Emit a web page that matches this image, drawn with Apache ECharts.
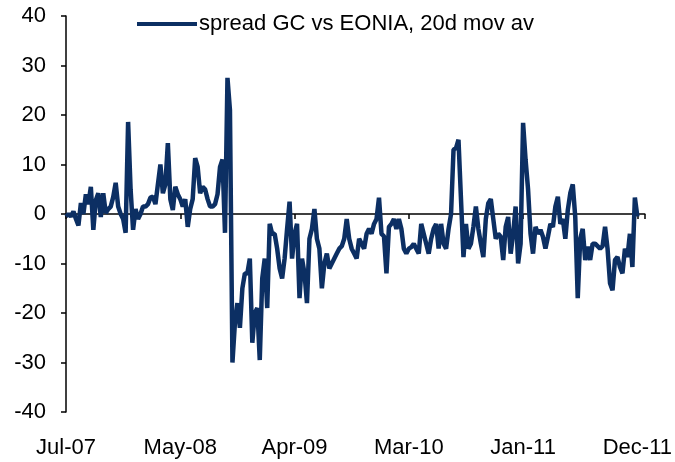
<!DOCTYPE html>
<html>
<head>
    <meta charset="utf-8">
    <script src="https://cdn.jsdelivr.net/npm/echarts@6/dist/echarts.min.js"></script>
    <style>
        html, body { margin: 0; padding: 0; background: #ffffff; }
        #chart { width: 675px; height: 462px; }
    </style>
</head>
<body>
    <div id="chart"></div>
    <script type="text/javascript">
        // weekly readings, Jul-07 .. Dec-11
        var seriesName = 'spread GC vs EONIA, 20d mov av';
        var tickLabels = ['Jul-07', 'May-08', 'Apr-09', 'Mar-10', 'Jan-11', 'Dec-11'];
        var weeksPerLabel = 46;

        var spread2007 = [-0.5, 0, -0.5, 0.5, -1, -2.3, 2.2, 0, 4, 2, 5.5, -3.2, 2.8, 4.2, -0.6, 4.2, 0.2, 1, 1.5, 3.4,
            6.3, 1.5, 0, -1, -3.8, 18.6, 5, -3.2, 1, -1];
        var spread2008 = [0, 1.5, 1.5, 2, 3.3, 3.5, 2, 6, 10, 4.2, 6, 14.3, 3, 0.8, 5.5, 4, 3, 1.5, 3, -2.6,
            1, 3, 11.3, 9.5, 4.2, 5.5, 5, 3, 1.5, 1.5, 2, 4, 9.5, 11, -3.8, 27.5, 21, -30, -22, -18,
            -23, -15, -12, -12, -9, -26, -20, -19, -29.5, -13, -9, -19, -2, -4, -4, -7, -11, -13, -9, -3];
        var spread2009 = [2.5, -9, -4, -2, -17, -9, -12, -18, -5, -3, 1, -5, -7, -15, -10, -8, -11, -10, -9, -8,
            -7, -6.5, -5, -1, -5, -7, -8, -9, -5, -6, -7, -4, -3, -4, -2, -1, 3.3, -4, -4.5, -12,
            -2.6, -2, -1, -3, -1, -3, -7, -8, -7, -6.7, -6, -7, -8, -2, -4, -6, -8, -5, -3, -2];
        var spread2010 = [-7, -2, -6, -7, -3, 0, 13, 13.3, 15, 3, -8.7, -2, -7, -6, -2.6, 1.5, -3, -6, -8.7, -1,
            2.2, 3, -1, -5, -4, -4.6, -9.3, -2.6, -0.6, -8, -4, 1.5, -10, -6, 18.4, 11, 5, -4, -8, -2.6,
            -4, -3.2, -4.6, -7, -4.6, -2, -2.6, 1.5, 3.5, -2, -1, -5, 0.8, 4.2, 6, -0.6, -17, -5, -3, -9.3];
        var spread2011 = [-6.6, -9.3, -6, -6, -6.5, -7, -6.5, -2.6, -7, -14, -15.4, -9.3, -8.7, -10.7, -12, -7, -8.7, -4, -10.7, 3.3,
            -0.5];

        var spread = spread2007.concat(spread2008, spread2009, spread2010, spread2011);
        var points = spread.map(function (v, i) { return [i, v]; });

        var chart = echarts.init(document.getElementById('chart'));
        var font = 'Liberation Sans, Arial, sans-serif';

        var option = {
            animation: false,
            backgroundColor: '#ffffff',
            grid: { left: 66, right: 30, top: 16, bottom: 50 },
            legend: {
                left: 132,
                top: 8,
                icon: 'rect',
                itemWidth: 60,
                itemHeight: 4,
                itemGap: 4,
                textStyle: { fontFamily: font, fontSize: 22, color: '#000000', padding: [0, 0, 0, -3] },
                data: [seriesName]
            },
            xAxis: [{
                type: 'value',
                min: 0,
                max: 233,
                interval: weeksPerLabel,
                position: 'bottom',
                axisLine: { show: false, onZero: false },
                axisTick: { show: false },
                splitLine: { show: false },
                axisLabel: {
                    margin: 25,
                    fontFamily: font,
                    fontSize: 22,
                    color: '#000000',
                    formatter: function (v) { return tickLabels[Math.round(v / weeksPerLabel)] || ''; }
                }
            }, {
                type: 'value',
                min: 0,
                max: 233,
                interval: weeksPerLabel,
                position: 'bottom',
                axisLine: { show: true, onZero: true, lineStyle: { color: '#000000', width: 1.5 } },
                axisTick: { show: true, length: 5, lineStyle: { color: '#000000', width: 1.5 } },
                axisLabel: { show: false },
                splitLine: { show: false }
            }],
            yAxis: {
                type: 'value',
                min: -40,
                max: 40,
                interval: 10,
                axisLine: { show: true, lineStyle: { color: '#000000', width: 1.5 } },
                axisTick: { show: true, length: 5, lineStyle: { color: '#000000', width: 1.5 } },
                splitLine: { show: false },
                axisLabel: { margin: 20, fontFamily: font, fontSize: 22, color: '#000000' }
            },
            series: [{
                name: seriesName,
                type: 'line',
                xAxisIndex: 0,
                data: points,
                showSymbol: false,
                symbol: 'none',
                color: '#0c2f63',
                lineStyle: { color: '#0c2f63', width: 4.5 },
                z: 1
            }]
        };
        chart.setOption(option);
    </script>
</body>
</html>
